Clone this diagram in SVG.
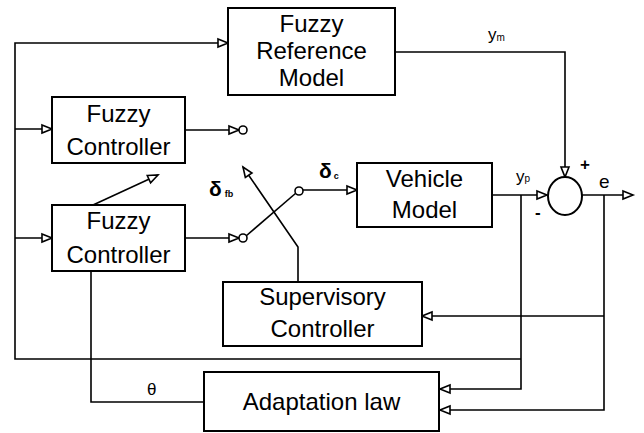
<svg xmlns="http://www.w3.org/2000/svg" width="644" height="433" viewBox="0 0 644 433">
<defs>
<marker id="tri" markerUnits="userSpaceOnUse" markerWidth="14" markerHeight="12" refX="11" refY="5" orient="auto" overflow="visible">
<path d="M1,1 L11,5 L1,9 Z" fill="#fff" stroke="#000" stroke-width="1.6"/>
</marker>
</defs>
<style>
.box{fill:#fff;stroke:#000;stroke-width:2}
.t{font-family:"Liberation Sans",Arial,sans-serif;font-size:24px;text-anchor:middle;fill:#000}
.c{fill:none;stroke:#000;stroke-width:1.6}
.a{marker-end:url(#tri)}
.lbl{font-family:"Liberation Sans",Arial,sans-serif;fill:#000}
.sw{fill:#fff;stroke:#000;stroke-width:1.6}
</style>
<g id="connectors">
<path class="c a" d="M521,359 H15 V43 H228"/>
<path class="c a" d="M15,129 H52"/>
<path class="c a" d="M15,238 H52"/>
<path class="c a" d="M395,52 H565 V177"/>
<path class="c a" d="M492,195 H547"/>
<path class="c a" d="M521,195 V389 H440"/>
<path class="c a" d="M582,195 H633"/>
<path class="c a" d="M604,195 V410 H440"/>
<path class="c a" d="M604,316 H422"/>
<path class="c a" d="M185,130 H239"/>
<path class="c a" d="M185,238 H239"/>
<path class="c" d="M246,236 L296,193"/>
<path class="c a" d="M303,190 H357"/>
<path class="c a" d="M298,282 V247 L243,167"/>
<path class="c a" d="M93,205 L158,175"/>
<path class="c" d="M91,271 V402 H204"/>
<circle class="sw" cx="243" cy="130" r="4"/>
<circle class="sw" cx="243" cy="238" r="4"/>
<circle class="sw" cx="299" cy="191" r="4"/>
</g>
<g id="frm">
<rect class="box" x="228" y="8" width="167" height="87"/>
<text class="t" x="311.5" y="32">Fuzzy</text>
<text class="t" x="311.5" y="59">Reference</text>
<text class="t" x="311.5" y="86">Model</text>
</g>
<g id="fc1">
<rect class="box" x="52" y="97" width="133" height="66"/>
<text class="t" x="118.5" y="122">Fuzzy</text>
<text class="t" x="118.5" y="155">Controller</text>
</g>
<g id="fc2">
<rect class="box" x="52" y="205" width="133" height="66"/>
<text class="t" x="118.5" y="229">Fuzzy</text>
<text class="t" x="118.5" y="263">Controller</text>
</g>
<g id="vehicle">
<rect class="box" x="357" y="163" width="135" height="64"/>
<text class="t" x="424.5" y="187">Vehicle</text>
<text class="t" x="424.5" y="218">Model</text>
</g>
<g id="supervisory">
<rect class="box" x="223" y="282" width="199" height="64"/>
<text class="t" x="322.5" y="305">Supervisory</text>
<text class="t" x="322.5" y="337">Controller</text>
</g>
<g id="adaptation">
<rect class="box" x="204" y="372" width="235" height="59"/>
<text class="t" x="321.5" y="410" font-size="25">Adaptation law</text>
</g>
<g id="sum">
<ellipse cx="565" cy="196" rx="17" ry="19" fill="#fff" stroke="#000" stroke-width="2"/>
</g>
<g id="labels">
<text class="lbl" x="488" y="40" font-size="17">y<tspan font-size="10" dy="1">m</tspan></text>
<text class="lbl" x="516" y="182" font-size="17">y<tspan font-size="10" dy="0">p</tspan></text>
<text class="lbl" x="580" y="170" font-size="17" font-weight="bold">+</text>
<text class="lbl" x="535" y="218" font-size="17" font-weight="bold">-</text>
<text class="lbl" x="599" y="188" font-size="19">e</text>
<text class="lbl" x="147" y="395" font-size="17" font-family="Liberation Serif">θ</text>
<text class="lbl" x="209" y="196" font-size="21" font-weight="bold" font-family="Liberation Serif">δ<tspan font-size="9" dx="3" dy="1">fb</tspan></text>
<text class="lbl" x="319" y="178" font-size="21" font-weight="bold" font-family="Liberation Serif">δ<tspan font-size="9" dx="2" dy="1">c</tspan></text>
</g>
</svg>
